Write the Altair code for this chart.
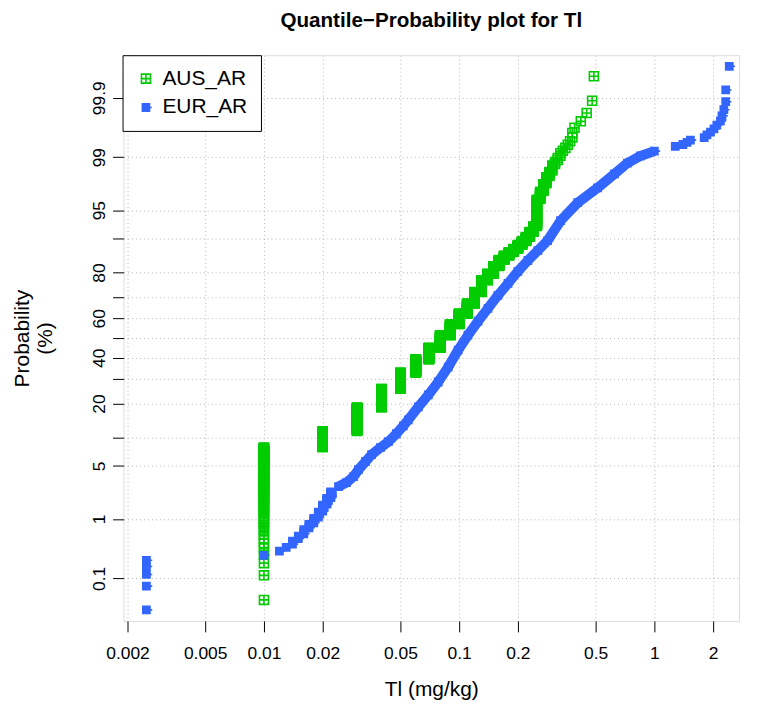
import altair as alt
import pandas as pd
from statistics import NormalDist

nd = NormalDist()

# ---------------- data ----------------
series_names = ["AUS_AR", "EUR_AR"]

# AUS_AR: distinct Tl values (mg/kg) and number of samples at each value
aus_values = [0.01, 0.02, 0.03, 0.04, 0.05, 0.06, 0.07, 0.08, 0.09, 0.10,
              0.11, 0.12, 0.13, 0.14, 0.15, 0.16, 0.17, 0.18, 0.19, 0.20,
              0.21, 0.22, 0.23, 0.24, 0.25, 0.26, 0.27, 0.28, 0.29, 0.30,
              0.31, 0.32, 0.33, 0.34, 0.35, 0.36, 0.37, 0.38, 0.39, 0.42,
              0.45, 0.48, 0.49]
aus_counts = [105, 47, 93, 93, 94, 84, 76, 85, 74, 69,
              63, 68, 63, 33, 35, 26, 17, 13, 12, 13,
              12, 13, 14, 14, 50, 10, 8, 6, 4, 4,
              2, 2, 2, 1, 1, 1, 1, 2, 1, 1,
              1, 1, 1]

# EUR_AR: number of samples
eur_n = 2108
# lowest values and counts (ranks from 1)
eur_low_values = [0.0025, 0.01, 0.012, 0.013, 0.014, 0.015, 0.016,
                  0.017, 0.018, 0.019, 0.020, 0.021, 0.022]
eur_low_counts = [5, 1, 1, 1, 2, 2, 3, 3, 4, 5, 7, 8, 9]
# main body: value and cumulative probability (%)
eur_body_values = [0.0241, 0.0265, 0.0288, 0.0305, 0.0331, 0.0356, 0.0395,
                   0.0434, 0.0477, 0.0518, 0.0549, 0.0618, 0.0695, 0.0781,
                   0.0879, 0.0988, 0.111, 0.125, 0.1406, 0.158, 0.178, 0.2,
                   0.225, 0.253, 0.284, 0.331, 0.405, 0.512, 0.625, 0.728,
                   0.849, 1.0]
eur_body_pct = [2.81, 3.16, 3.75, 4.54, 5.60, 6.69, 7.93,
                9.13, 10.93, 12.97, 14.66, 18.81, 23.24, 28.61,
                35.47, 43.84, 51.48, 58.57, 64.91, 70.86, 75.90, 80.42,
                84.07, 86.98, 89.50, 93.44, 95.91, 97.33, 98.26, 98.78,
                99.04, 99.19]
# highest individual values (the top ranks)
eur_high_values = [1.28, 1.40, 1.47, 1.53, 1.80, 1.86, 1.94, 2.02, 2.09,
                   2.18, 2.22, 2.27, 2.32, 2.32, 2.42]

# axis ticks
x_ticks = [0.002, 0.005, 0.01, 0.02, 0.05, 0.1, 0.2, 0.5, 1, 2]
y_tick_prob = [0.1, 1, 5, 10, 20, 30, 40, 50, 60, 70, 80, 90, 95, 99, 99.9]
y_tick_labels = ["0.1", "1", "5", "", "20", "", "40", "", "60", "", "80", "",
                 "95", "99", "99.9"]

# ---------------- build plotting positions ----------------
rows = []
aus_n = sum(aus_counts)
r = 0
for v, c in zip(aus_values, aus_counts):
    for _ in range(c):
        r += 1
        rows.append({"tl": v, "z": nd.inv_cdf((r - 0.5) / aus_n), "series": "AUS_AR"})

r = 0
for v, c in zip(eur_low_values, eur_low_counts):
    for _ in range(c):
        r += 1
        rows.append({"tl": v, "z": nd.inv_cdf((r - 0.5) / eur_n), "series": "EUR_AR"})
for v, p in zip(eur_body_values, eur_body_pct):
    rows.append({"tl": v, "z": nd.inv_cdf(p / 100.0), "series": "EUR_AR"})
start = eur_n - len(eur_high_values) + 1
for k, v in enumerate(eur_high_values):
    rr = start + k
    rows.append({"tl": v, "z": nd.inv_cdf((rr - 0.5) / eur_n), "series": "EUR_AR"})

pts = pd.DataFrame(rows)
body = pd.DataFrame({"tl": eur_body_values,
                     "z": [nd.inv_cdf(p / 100.0) for p in eur_body_pct]})

# ---------------- styling ----------------
GREEN = "#00CC00"
BLUE = "#3366FF"
FONT = "Liberation Sans"
aus_path = "M-1,-1H1V1H-1ZM-1,0H1M0,-1V1"
eur_path = "M-0.8,-0.8H0.8V0.8H-0.8ZM0.8,0H1.3"

y_tick_z = [nd.inv_cdf(p / 100.0) for p in y_tick_prob]
label_expr = " : ".join(
    f"abs(datum.value - ({z:.6f})) < 0.001 ? '{lab}'" for z, lab in zip(y_tick_z, y_tick_labels)
) + " : ''"

x_scale = alt.Scale(type="log", domain=[0.001909, 2.7152], nice=False)
y_scale = alt.Scale(domain=[-3.637, 3.637], nice=False, zero=False)

x_enc = alt.X("tl:Q", scale=x_scale,
              axis=alt.Axis(values=x_ticks, format="~g", title="Tl (mg/kg)",
                            domain=False, tickColor="black", tickSize=11, tickWidth=1,
                            labelFont=FONT, labelFontSize=17.5, labelColor="black",
                            labelPadding=13, labelFlush=False, labelOverlap=False,
                            grid=True, gridDash=[1, 3], gridColor="#B4B4B4", gridWidth=1,
                            titleFont=FONT, titleFontSize=21, titleFontWeight="normal",
                            titleColor="black", titleY=58, titleBaseline="top"))
y_enc = alt.Y("z:Q", scale=y_scale,
              axis=alt.Axis(values=y_tick_z, labelExpr=label_expr,
                            title=["Probability", "(%)"],
                            domain=False, tickColor="black", tickSize=11, tickWidth=1,
                            labelFont=FONT, labelFontSize=17.5, labelColor="black",
                            labelAngle=270, labelAlign="center", labelBaseline="bottom",
                            labelPadding=4, labelFlush=False, labelOverlap=False,
                            grid=True, gridDash=[1, 3], gridColor="#B4B4B4", gridWidth=1,
                            titleFont=FONT, titleFontSize=21, titleFontWeight="normal",
                            titleColor="black", titleAngle=270, titleX=-112, titleY=284,
                            titleAlign="center", titleBaseline="top", titleLineHeight=23))

leg = alt.Legend(orient="none", legendX=-1, legendY=0, title=None, padding=13,
                 strokeColor="black", fillColor="white", labelFont=FONT,
                 labelFontSize=21, labelColor="black", rowPadding=7, labelOffset=6,
                 symbolSize=81, symbolStrokeWidth=1.6, cornerRadius=0)

line = alt.Chart(body).mark_line(color=BLUE, strokeWidth=10, strokeCap="butt",
                                 strokeJoin="round").encode(x=x_enc, y=y_enc)

points = alt.Chart(pts).mark_point(opacity=1, size=81, strokeWidth=1.6).encode(
    x=x_enc, y=y_enc,
    shape=alt.Shape("series:N", scale=alt.Scale(domain=series_names, range=[aus_path, eur_path]), legend=leg),
    stroke=alt.Stroke("series:N", scale=alt.Scale(domain=series_names, range=[GREEN, BLUE]), legend=leg),
    fill=alt.Fill("series:N", scale=alt.Scale(domain=series_names, range=["transparent", BLUE]), legend=leg),
)

chart = alt.layer(line, points).properties(
    width=618, height=568,
    title=alt.TitleParams("Quantile\u2212Probability plot for Tl", font=FONT, fontSize=20.7,
                          fontWeight="bold", color="black", anchor="middle",
                          baseline="alphabetic", offset=7),
    autosize=alt.AutoSizeParams(type="none"),
    padding={"left": 116, "top": 46, "right": 10, "bottom": 81},
).configure_view(stroke="black", strokeWidth=1).configure(background="white")

chart.save("out.html", embed_options={"renderer": "svg", "actions": False})
